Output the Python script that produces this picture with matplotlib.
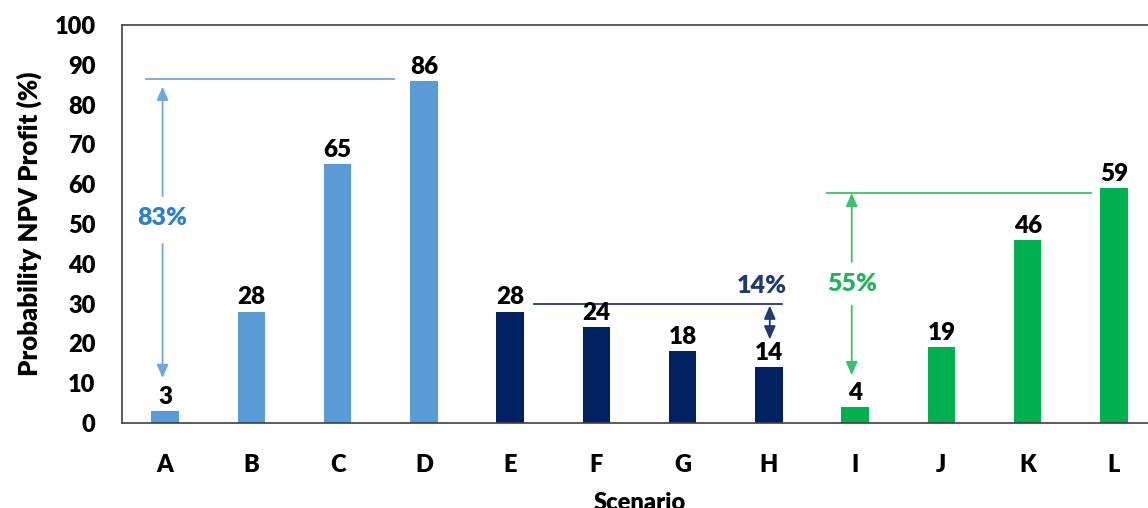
import numpy as np
import matplotlib.pyplot as plt

plt.rcParams["font.family"] = ["Lato", "DejaVu Sans"]
plt.rcParams["font.weight"] = "bold"

scenarios = ["A", "B", "C", "D", "E", "F", "G", "H", "I", "J", "K", "L"]
probability = [3, 28, 65, 86, 28, 24, 18, 14, 4, 19, 46, 59]
bar_colors = ["#5B9BD5"] * 4 + ["#002060"] * 4 + ["#00B050"] * 4

fig = plt.figure(figsize=(11.48, 5.08), dpi=100)
ax = fig.add_axes([0.1063, 0.1673, 0.9016, 0.7835])  # right side runs off the canvas like the original

x = np.arange(len(scenarios))
ax.bar(x, probability, width=0.32, color=bar_colors)
for xi, v in zip(x, probability):
    ax.text(xi, v + 0.8, str(v), ha="center", va="bottom", fontsize=17.5, fontweight="heavy")

ax.set_xlim(-0.5, 11.5)
ax.set_ylim(0, 100)
ax.set_yticks(range(0, 101, 10))
ax.set_xticks(x, scenarios)
ax.tick_params(length=0, labelsize=17, pad=19)
ax.tick_params(axis="x", pad=22)
for lab in ax.get_xticklabels() + ax.get_yticklabels():
    lab.set_fontweight("heavy")
for s in ax.spines.values():
    s.set_color("#404040")
    s.set_linewidth(1.2)
ax.set_ylabel("Probability NPV Profit (%)", fontsize=18.5, fontweight="heavy", labelpad=9)
ax.set_xlabel("Scenario", fontsize=17, fontweight="heavy", labelpad=12)


def gap_arrow(xa, top, bottom, t_hi, t_lo, color):  # double arrow split by a label
    kw = dict(arrowstyle="-|>,head_length=0.8,head_width=0.35", color=color, lw=1.3, shrinkA=0, shrinkB=0)
    ax.annotate("", xy=(xa, top), xytext=(xa, t_hi), arrowprops=kw)
    ax.annotate("", xy=(xa, bottom), xytext=(xa, t_lo), arrowprops=kw)


# 83% spread, light blue
ax.plot([-0.22, 2.65], [86.5, 86.5], color="#6FA8DC", lw=1.3)
gap_arrow(-0.03, 84.5, 11.3, 57, 45, "#6FA8DC")
ax.text(-0.03, 51.5, "83%", color="#2E7FCC", fontsize=18, fontweight="heavy", ha="center", va="center")

# 14% spread, navy
ax.plot([4.28, 7.15], [30, 30], color="#1F3A72", lw=1.3)
ax.annotate("", xy=(7.01, 29.5), xytext=(7.01, 21),
            arrowprops=dict(arrowstyle="<|-|>,head_length=0.8,head_width=0.35", color="#1F3A72", lw=1.3,
                            shrinkA=0, shrinkB=0))
ax.text(6.92, 34.5, "14%", color="#1F3A72", fontsize=18, fontweight="heavy", ha="center", va="center")

# 55% spread, green
ax.plot([7.67, 10.73], [57.8, 57.8], color="#3CC070", lw=1.3)
gap_arrow(7.96, 57.8, 12, 40.5, 29.5, "#3CC070")
ax.text(7.96, 35, "55%", color="#22B35E", fontsize=18, fontweight="heavy", ha="center", va="center")

plt.savefig("out.png", dpi=100)
